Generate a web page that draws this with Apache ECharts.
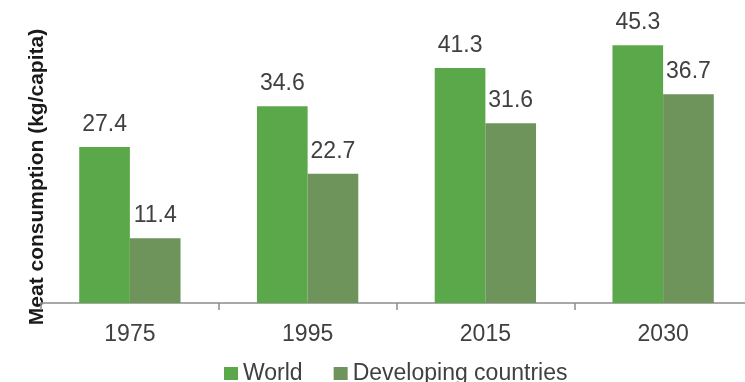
<!DOCTYPE html>
<html>
<head>
<meta charset="utf-8">
<style>
  html, body { margin: 0; padding: 0; background: #fff; }
  #chart { width: 745px; height: 382px; }
</style>
<script src="https://cdn.jsdelivr.net/npm/echarts@6/dist/echarts.min.js"></script>
</head>
<body>
<div id="chart"></div>
<script>
// Meat consumption per person, kg/capita
const years = ['1975', '1995', '2015', '2030'];
const world = [27.4, 34.6, 41.3, 45.3];
const developing = [11.4, 22.7, 31.6, 36.7];
const seriesNames = ['World', 'Developing countries'];

const FONT = "'Liberation Sans', Arial, sans-serif";
const TEXT = '#404040';

const chart = echarts.init(document.getElementById('chart'), null, { renderer: 'canvas' });

const labelStyle = {
  show: true,
  position: 'top',
  distance: 11,
  color: TEXT,
  fontSize: 23,
  fontFamily: FONT,
  formatter: p => p.value.toFixed(1)
};

chart.setOption({
  animation: false,
  backgroundColor: '#ffffff',
  // the plot runs past the right edge of the canvas
  grid: { left: 41, width: 711, top: 18.5, bottom: 79, containLabel: false, outerBoundsMode: 'none' },
  legend: {
    data: seriesNames,
    left: 219,
    top: 357,
    padding: 5,
    itemWidth: 14,
    itemHeight: 13,
    itemGap: 31,
    icon: 'rect',
    textStyle: { color: TEXT, fontSize: 23, fontFamily: FONT }
  },
  xAxis: {
    type: 'category',
    data: years,
    axisLine: { show: true, lineStyle: { color: '#8c8c8c', width: 1.5 } },
    axisTick: { show: true, alignWithLabel: false, length: 7, lineStyle: { color: '#8c8c8c', width: 1.5 } },
    axisLabel: { color: TEXT, fontSize: 23, fontFamily: FONT, margin: 20 }
  },
  yAxis: {
    type: 'value',
    min: 0,
    max: 50,
    show: false
  },
  graphic: [{
    type: 'text',
    x: 37,
    y: 177,
    rotation: Math.PI / 2,
    style: {
      text: 'Meat consumption (kg/capita)',
      fontSize: 21,
      fontWeight: 'bold',
      fontFamily: FONT,
      fill: '#1a1a1a',
      align: 'center',
      verticalAlign: 'middle'
    }
  }],
  series: [
    {
      name: seriesNames[0],
      type: 'bar',
      data: world,
      barCategoryGap: '43%',
      barGap: '0%',
      itemStyle: { color: '#5ba84b' },
      label: labelStyle
    },
    {
      name: seriesNames[1],
      type: 'bar',
      data: developing,
      barCategoryGap: '43%',
      barGap: '0%',
      itemStyle: { color: '#6e935b' },
      label: labelStyle
    }
  ]
});
</script>
</body>
</html>
